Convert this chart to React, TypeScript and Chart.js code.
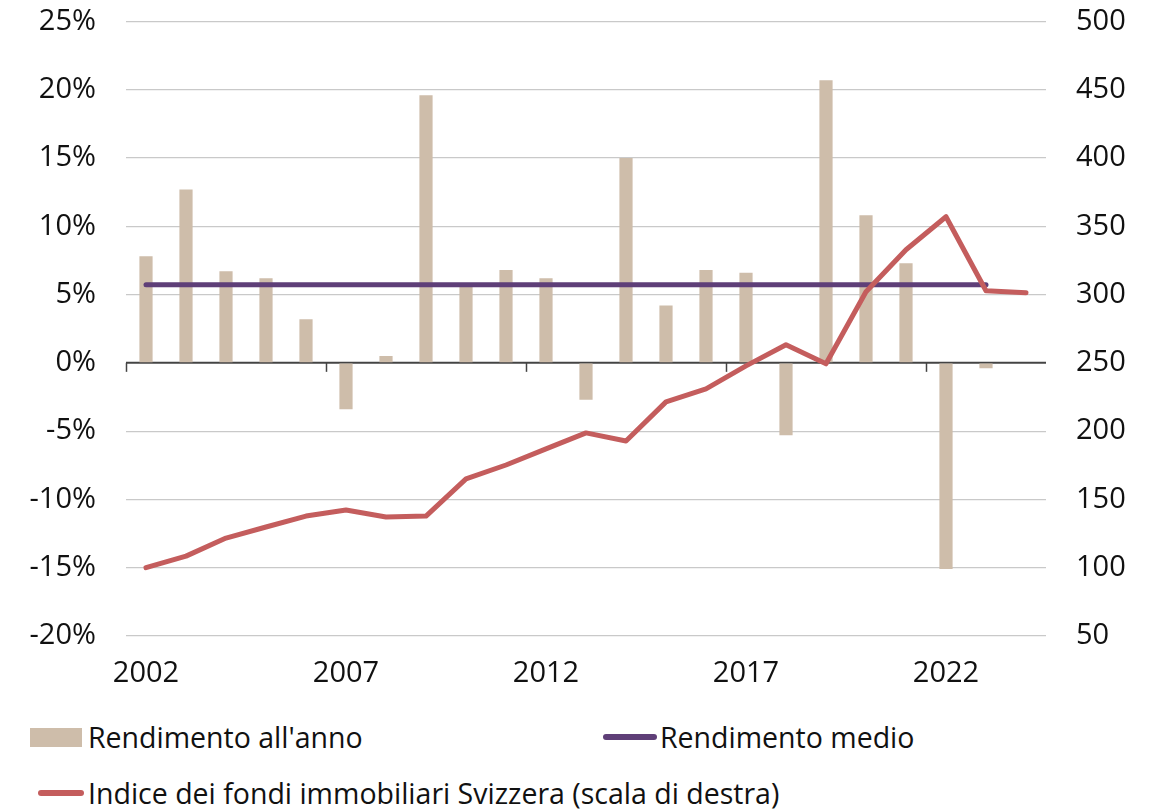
import React, { useEffect, useRef } from "react";
import { Chart, registerables } from "chart.js";

Chart.register(...registerables);

const years: string[] = [
  "2002", "2003", "2004", "2005", "2006", "2007", "2008", "2009", "2010", "2011", "2012",
  "2013", "2014", "2015", "2016", "2017", "2018", "2019", "2020", "2021", "2022", "2023", "2024",
];

const annualReturn: (number | null)[] = [
  7.8, 12.7, 6.7, 6.2, 3.2, -3.4, 0.5, 19.6, 5.6, 6.8, 6.2,
  -2.7, 15.0, 4.2, 6.8, 6.6, -5.3, 20.7, 10.8, 7.3, -15.1, -0.4, null,
];

const averageReturn: (number | null)[] = [
  5.72, 5.72, 5.72, 5.72, 5.72, 5.72, 5.72, 5.72, 5.72, 5.72, 5.72,
  5.72, 5.72, 5.72, 5.72, 5.72, 5.72, 5.72, 5.72, 5.72, 5.72, 5.72, null,
];

const indexValues: number[] = [
  100, 108.5, 121.7, 129.8, 137.8, 142.2, 137.1, 137.8, 165, 175.2, 187,
  198.7, 192.8, 221.4, 230.9, 247.8, 263.2, 249.3, 302, 332.8, 357, 302.8, 301.3,
];

const leftTicks = { min: -20, max: 25, step: 5 };
const rightTicks = { min: 50, max: 500, step: 50 };

const labelsShown = ["2002", "2007", "2012", "2017", "2022"];

const legendLabels = {
  bars: "Rendimento all'anno",
  avg: "Rendimento medio",
  index: "Indice dei fondi immobiliari Svizzera (scala di destra)",
};

const BAR_COLOR = "#cebdaa";
const AVG_COLOR = "#5f3f78";
const IDX_COLOR = "#c45d5d";
const AXIS_COLOR = "#444";
const FONT = "'Open Sans', 'Noto Sans', sans-serif";

const zeroAxisPlugin = {
  id: "zeroAxis",
  beforeDatasetsDraw(chart: any) {
    const { ctx, chartArea, scales } = chart;
    const xs = scales.x;
    const ys = scales.y;
    const y0 = ys.getPixelForValue(0);
    const half = (xs.getPixelForValue(1) - xs.getPixelForValue(0)) / 2;
    ctx.save();
    ctx.strokeStyle = AXIS_COLOR;
    ctx.lineWidth = 2;
    ctx.beginPath();
    ctx.moveTo(chartArea.left, y0);
    ctx.lineTo(chartArea.right, y0);
    ctx.stroke();
    ctx.lineWidth = 1.5;
    years.forEach((y, i) => {
      if (labelsShown.includes(y)) {
        const x = Math.round(xs.getPixelForValue(i) - half) + 0.5;
        ctx.beginPath();
        ctx.moveTo(x, y0);
        ctx.lineTo(x, y0 + 9);
        ctx.stroke();
      }
    });
    ctx.restore();
  },
};

export default function App() {
  const ref = useRef<HTMLCanvasElement | null>(null);

  useEffect(() => {
    if (!ref.current) return;
    const chart = new Chart(ref.current, {
      type: "bar",
      data: {
        labels: years,
        datasets: [
          {
            type: "line",
            label: legendLabels.index,
            data: indexValues,
            yAxisID: "y1",
            xAxisID: "x",
            borderColor: IDX_COLOR,
            backgroundColor: IDX_COLOR,
            borderWidth: 5,
            pointRadius: 0,
            borderCapStyle: "round",
            borderJoinStyle: "round",
            tension: 0,
            order: 1,
          },
          {
            type: "line",
            label: legendLabels.avg,
            data: averageReturn,
            yAxisID: "y",
            xAxisID: "x",
            borderColor: AVG_COLOR,
            backgroundColor: AVG_COLOR,
            borderWidth: 5,
            pointRadius: 0,
            borderCapStyle: "round",
            order: 2,
          },
          {
            type: "bar",
            label: legendLabels.bars,
            data: annualReturn,
            yAxisID: "y",
            xAxisID: "x",
            backgroundColor: BAR_COLOR,
            barPercentage: 0.33,
            categoryPercentage: 1,
            order: 3,
          },
        ],
      },
      plugins: [zeroAxisPlugin],
      options: {
        animation: false,
        responsive: false,
        maintainAspectRatio: false,
        layout: { padding: { top: 21, left: 0, right: 0, bottom: 0 } },
        plugins: {
          legend: { display: false },
          tooltip: { enabled: false },
        },
        scales: {
          x: {
            type: "category",
            position: "bottom",
            offset: true,
            grid: { display: false, drawTicks: false, offset: true },
            border: { display: false },
            ticks: {
              autoSkip: false,
              maxRotation: 0,
              padding: 20,
              color: "#111",
              font: { family: FONT, size: 29 },
              callback: function (this: any, _v: any, i: number) {
                const l = years[i];
                return labelsShown.includes(l) ? l : "";
              },
            },
            afterFit: (s: any) => {
              s.height = 65;
            },
          },
          y: {
            type: "linear",
            position: "left",
            min: leftTicks.min,
            max: leftTicks.max,
            ticks: {
              stepSize: leftTicks.step,
              padding: 30,
              color: "#111",
              font: { family: FONT, size: 29 },
              callback: (v: any) => `${v}%`,
            },
            grid: {
              drawTicks: false,
              color: (ctx: any) => (ctx.tick && ctx.tick.value === 0 ? "rgba(0,0,0,0)" : "#c9c9c9"),
              lineWidth: 1.2,
            },
            border: { display: false },
            afterFit: (s: any) => {
              s.width = 126;
            },
          },
          y1: {
            type: "linear",
            position: "right",
            min: rightTicks.min,
            max: rightTicks.max,
            ticks: {
              stepSize: rightTicks.step,
              padding: 30,
              color: "#111",
              font: { family: FONT, size: 29 },
            },
            grid: { display: false, drawTicks: false },
            border: { display: false },
            afterFit: (s: any) => {
              s.width = 107;
            },
          },
        },
      },
    });
    return () => chart.destroy();
  }, []);

  const textStyle: React.CSSProperties = {
    position: "absolute",
    fontFamily: FONT,
    fontSize: 28.5,
    color: "#111",
    lineHeight: "34px",
    whiteSpace: "nowrap",
  };

  return (
    <div style={{ position: "absolute", left: 0, top: 0, width: 1153, height: 810, background: "#fff", overflow: "hidden" }}>
      <canvas
        ref={ref}
        width={1153}
        height={727}
        style={{ position: "absolute", left: 0, top: -26, display: "block", width: 1153, height: 727 }}
      />
      <div style={{ position: "absolute", left: 30, top: 728, width: 52, height: 19, background: BAR_COLOR }} />
      <div style={{ ...textStyle, left: 88, top: 720 }}>{legendLabels.bars}</div>
      <div style={{ position: "absolute", left: 603, top: 734, width: 54, height: 6, borderRadius: 3, background: AVG_COLOR }} />
      <div style={{ ...textStyle, left: 660, top: 720 }}>{legendLabels.avg}</div>
      <div style={{ position: "absolute", left: 38, top: 790, width: 46, height: 6, borderRadius: 3, background: IDX_COLOR }} />
      <div style={{ ...textStyle, left: 88, top: 776 }}>{legendLabels.index}</div>
    </div>
  );
}
